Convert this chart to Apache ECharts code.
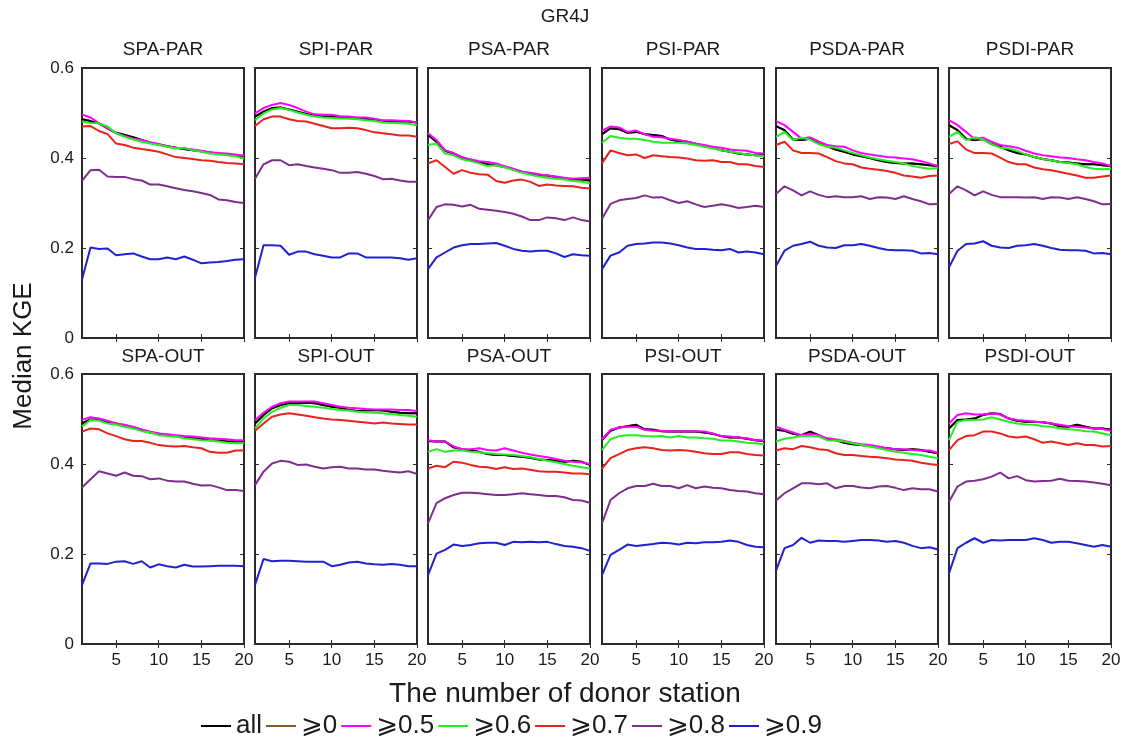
<!DOCTYPE html>
<html><head><meta charset="utf-8">
<script src="https://cdn.jsdelivr.net/npm/echarts@6/dist/echarts.min.js"></script>
<style>html,body{margin:0;padding:0;background:#fff}#c{width:1126px;height:742px}</style>
</head><body><div id="c"></div>
<script>
// ---------------- DATA ----------------
const xValues = [1,2,3,4,5,6,7,8,9,10,11,12,13,14,15,16,17,18,19,20];
const xTicks = [5,10,15,20];
const yTicks = [0,0.2,0.4,0.6];
const seriesNames = ['all','⩾0','⩾0.5','⩾0.6','⩾0.7','⩾0.8','⩾0.9'];
const panelTitles = ['SPA-PAR','SPI-PAR','PSA-PAR','PSI-PAR','PSDA-PAR','PSDI-PAR',
                     'SPA-OUT','SPI-OUT','PSA-OUT','PSI-OUT','PSDA-OUT','PSDI-OUT'];
const mainTitle = 'GR4J';
const xName = 'The number of donor station';
const yName = 'Median KGE';

// rows: all, >=0, >=0.5, >=0.6, >=0.7, >=0.8, >=0.9
const spaPar = [
 [0.486,0.482,0.477,0.466,0.456,0.451,0.446,0.440,0.434,0.430,0.426,0.423,0.420,0.417,0.415,0.412,0.410,0.408,0.405,0.401],
 [0.486,0.482,0.477,0.466,0.456,0.451,0.446,0.440,0.434,0.430,0.426,0.423,0.420,0.417,0.415,0.412,0.410,0.408,0.405,0.401],
 [0.497,0.490,0.477,0.466,0.455,0.449,0.443,0.440,0.435,0.431,0.426,0.423,0.421,0.419,0.416,0.413,0.411,0.410,0.408,0.405],
 [0.481,0.478,0.477,0.470,0.455,0.447,0.441,0.436,0.432,0.429,0.425,0.421,0.423,0.417,0.414,0.410,0.408,0.406,0.404,0.399],
 [0.470,0.471,0.460,0.453,0.432,0.429,0.423,0.420,0.417,0.414,0.408,0.402,0.400,0.398,0.395,0.394,0.391,0.389,0.388,0.386],
 [0.349,0.373,0.374,0.359,0.358,0.358,0.353,0.350,0.341,0.341,0.337,0.333,0.329,0.326,0.322,0.318,0.308,0.306,0.302,0.300],
 [0.130,0.201,0.198,0.199,0.184,0.186,0.188,0.181,0.175,0.175,0.179,0.175,0.181,0.174,0.166,0.168,0.169,0.171,0.174,0.175]
];
const spiPar = [
 [0.492,0.503,0.511,0.512,0.508,0.503,0.498,0.494,0.492,0.492,0.490,0.489,0.488,0.487,0.486,0.483,0.482,0.481,0.481,0.479],
 [0.492,0.503,0.511,0.512,0.508,0.503,0.498,0.494,0.492,0.492,0.490,0.489,0.488,0.487,0.486,0.483,0.482,0.481,0.481,0.479],
 [0.499,0.511,0.518,0.522,0.518,0.511,0.503,0.497,0.496,0.496,0.493,0.492,0.490,0.490,0.487,0.484,0.484,0.483,0.482,0.479],
 [0.484,0.499,0.508,0.511,0.507,0.501,0.496,0.492,0.490,0.489,0.488,0.487,0.486,0.484,0.482,0.479,0.478,0.477,0.476,0.473],
 [0.471,0.486,0.492,0.492,0.486,0.482,0.481,0.476,0.471,0.466,0.466,0.467,0.466,0.462,0.457,0.455,0.453,0.450,0.450,0.447],
 [0.354,0.386,0.395,0.395,0.384,0.386,0.382,0.379,0.376,0.373,0.367,0.367,0.369,0.365,0.360,0.353,0.354,0.350,0.347,0.347],
 [0.134,0.206,0.206,0.205,0.185,0.192,0.192,0.186,0.183,0.179,0.179,0.188,0.188,0.179,0.179,0.179,0.179,0.177,0.174,0.177]
];
const psaPar = [
 [0.451,0.436,0.416,0.410,0.401,0.395,0.391,0.386,0.384,0.380,0.375,0.369,0.365,0.361,0.361,0.358,0.354,0.353,0.352,0.350],
 [0.451,0.436,0.416,0.410,0.401,0.395,0.391,0.386,0.384,0.380,0.375,0.369,0.365,0.361,0.361,0.358,0.354,0.353,0.352,0.350],
 [0.455,0.440,0.417,0.411,0.402,0.397,0.393,0.391,0.388,0.382,0.376,0.370,0.367,0.364,0.361,0.359,0.356,0.354,0.355,0.356],
 [0.429,0.432,0.410,0.406,0.397,0.393,0.388,0.382,0.384,0.379,0.373,0.367,0.363,0.359,0.356,0.354,0.352,0.349,0.347,0.344],
 [0.388,0.395,0.380,0.365,0.373,0.367,0.364,0.363,0.349,0.345,0.350,0.352,0.347,0.338,0.341,0.339,0.338,0.337,0.334,0.332],
 [0.262,0.291,0.297,0.296,0.292,0.296,0.287,0.285,0.283,0.280,0.276,0.270,0.262,0.262,0.268,0.266,0.262,0.268,0.262,0.259],
 [0.153,0.179,0.190,0.201,0.206,0.209,0.209,0.210,0.211,0.205,0.198,0.194,0.192,0.194,0.194,0.188,0.180,0.186,0.184,0.183]
];
const psiPar = [
 [0.453,0.466,0.464,0.456,0.458,0.453,0.451,0.449,0.441,0.437,0.436,0.431,0.426,0.423,0.417,0.414,0.410,0.408,0.406,0.406],
 [0.453,0.466,0.464,0.456,0.458,0.453,0.451,0.449,0.441,0.437,0.436,0.431,0.426,0.423,0.417,0.414,0.410,0.408,0.406,0.406],
 [0.461,0.470,0.468,0.458,0.461,0.453,0.447,0.446,0.443,0.440,0.436,0.432,0.429,0.425,0.423,0.419,0.417,0.416,0.411,0.410],
 [0.434,0.449,0.445,0.443,0.443,0.440,0.436,0.434,0.434,0.434,0.432,0.429,0.425,0.421,0.417,0.414,0.411,0.408,0.406,0.404],
 [0.388,0.417,0.411,0.406,0.408,0.400,0.406,0.404,0.402,0.401,0.399,0.395,0.394,0.395,0.391,0.391,0.386,0.386,0.382,0.380],
 [0.265,0.298,0.306,0.309,0.311,0.317,0.312,0.313,0.306,0.300,0.304,0.297,0.291,0.294,0.297,0.294,0.289,0.291,0.294,0.291],
 [0.153,0.183,0.190,0.205,0.209,0.210,0.212,0.212,0.210,0.206,0.201,0.198,0.198,0.196,0.195,0.198,0.190,0.192,0.190,0.186]
];
const psdaPar = [
 [0.471,0.462,0.441,0.440,0.443,0.432,0.426,0.419,0.414,0.408,0.404,0.400,0.395,0.391,0.389,0.388,0.388,0.386,0.384,0.382],
 [0.471,0.462,0.441,0.440,0.443,0.432,0.426,0.419,0.414,0.408,0.404,0.400,0.395,0.391,0.389,0.388,0.388,0.386,0.384,0.382],
 [0.482,0.473,0.458,0.443,0.446,0.437,0.429,0.426,0.425,0.417,0.411,0.408,0.405,0.402,0.401,0.399,0.397,0.393,0.388,0.382],
 [0.447,0.458,0.440,0.445,0.441,0.431,0.425,0.423,0.417,0.411,0.406,0.401,0.397,0.394,0.391,0.388,0.382,0.379,0.376,0.378],
 [0.429,0.436,0.417,0.411,0.411,0.410,0.402,0.393,0.388,0.386,0.379,0.376,0.374,0.371,0.367,0.361,0.359,0.356,0.360,0.361],
 [0.320,0.337,0.328,0.317,0.326,0.318,0.313,0.315,0.313,0.313,0.315,0.309,0.313,0.312,0.309,0.315,0.309,0.304,0.297,0.298],
 [0.160,0.194,0.205,0.209,0.214,0.205,0.201,0.200,0.206,0.206,0.209,0.205,0.200,0.196,0.195,0.195,0.194,0.188,0.189,0.186]
];
const psdiPar = [
 [0.473,0.462,0.443,0.440,0.442,0.431,0.425,0.417,0.411,0.408,0.402,0.398,0.395,0.391,0.390,0.388,0.386,0.386,0.384,0.382],
 [0.473,0.462,0.443,0.440,0.442,0.431,0.425,0.417,0.411,0.408,0.402,0.398,0.395,0.391,0.390,0.388,0.386,0.386,0.384,0.382],
 [0.484,0.473,0.458,0.442,0.445,0.436,0.429,0.426,0.423,0.416,0.410,0.406,0.404,0.401,0.400,0.397,0.395,0.391,0.388,0.382],
 [0.447,0.458,0.440,0.446,0.441,0.431,0.423,0.421,0.416,0.408,0.402,0.398,0.395,0.391,0.389,0.386,0.380,0.376,0.375,0.376],
 [0.431,0.437,0.419,0.411,0.411,0.410,0.401,0.391,0.386,0.386,0.379,0.375,0.373,0.369,0.365,0.361,0.356,0.356,0.359,0.361],
 [0.320,0.337,0.328,0.317,0.326,0.318,0.313,0.313,0.313,0.312,0.313,0.309,0.313,0.312,0.309,0.313,0.309,0.304,0.297,0.298],
 [0.157,0.194,0.209,0.210,0.215,0.205,0.201,0.200,0.205,0.206,0.209,0.205,0.200,0.196,0.195,0.195,0.194,0.188,0.189,0.186]
];
const spaOut = [
 [0.490,0.499,0.498,0.492,0.490,0.484,0.481,0.476,0.470,0.467,0.464,0.462,0.459,0.457,0.456,0.453,0.452,0.450,0.450,0.450],
 [0.490,0.499,0.498,0.492,0.490,0.484,0.481,0.476,0.470,0.467,0.464,0.462,0.459,0.457,0.456,0.453,0.452,0.450,0.450,0.450],
 [0.498,0.504,0.501,0.496,0.490,0.487,0.483,0.477,0.472,0.468,0.466,0.464,0.462,0.461,0.459,0.457,0.456,0.455,0.453,0.453],
 [0.483,0.498,0.496,0.490,0.487,0.483,0.479,0.473,0.470,0.464,0.462,0.461,0.457,0.455,0.453,0.452,0.450,0.447,0.446,0.446],
 [0.472,0.479,0.477,0.468,0.462,0.455,0.451,0.451,0.447,0.442,0.440,0.439,0.440,0.437,0.435,0.427,0.425,0.425,0.430,0.430],
 [0.348,0.366,0.384,0.379,0.374,0.381,0.374,0.373,0.366,0.368,0.363,0.361,0.361,0.356,0.352,0.353,0.348,0.342,0.342,0.340],
 [0.131,0.179,0.179,0.178,0.183,0.184,0.178,0.184,0.170,0.177,0.173,0.170,0.176,0.172,0.172,0.173,0.174,0.174,0.174,0.173]
];
const spiOut = [
 [0.490,0.509,0.524,0.531,0.535,0.535,0.536,0.535,0.531,0.527,0.525,0.520,0.518,0.519,0.520,0.519,0.516,0.514,0.513,0.513],
 [0.490,0.509,0.524,0.531,0.535,0.535,0.536,0.535,0.531,0.527,0.525,0.520,0.518,0.519,0.520,0.519,0.516,0.514,0.513,0.513],
 [0.498,0.514,0.527,0.535,0.539,0.539,0.539,0.539,0.535,0.531,0.527,0.525,0.524,0.522,0.521,0.521,0.521,0.520,0.520,0.518],
 [0.479,0.501,0.516,0.525,0.531,0.531,0.529,0.527,0.525,0.522,0.520,0.519,0.516,0.515,0.514,0.513,0.511,0.509,0.507,0.505],
 [0.474,0.490,0.505,0.510,0.513,0.510,0.507,0.504,0.501,0.499,0.498,0.496,0.494,0.492,0.490,0.492,0.490,0.489,0.488,0.488],
 [0.353,0.383,0.401,0.407,0.405,0.398,0.399,0.394,0.390,0.393,0.394,0.390,0.390,0.388,0.388,0.385,0.383,0.381,0.384,0.378],
 [0.131,0.189,0.184,0.185,0.185,0.184,0.183,0.183,0.183,0.173,0.176,0.181,0.183,0.179,0.177,0.176,0.178,0.176,0.173,0.173]
];
const psaOut = [
 [0.451,0.450,0.450,0.437,0.433,0.430,0.427,0.422,0.420,0.420,0.418,0.416,0.414,0.410,0.409,0.407,0.405,0.407,0.405,0.398],
 [0.451,0.450,0.450,0.437,0.433,0.430,0.427,0.422,0.420,0.420,0.418,0.416,0.414,0.410,0.409,0.407,0.405,0.407,0.405,0.398],
 [0.453,0.450,0.450,0.439,0.433,0.433,0.435,0.431,0.430,0.435,0.430,0.425,0.421,0.418,0.415,0.411,0.407,0.405,0.404,0.400],
 [0.427,0.433,0.427,0.430,0.430,0.427,0.426,0.424,0.422,0.421,0.420,0.418,0.415,0.411,0.407,0.404,0.400,0.396,0.393,0.390],
 [0.390,0.396,0.393,0.405,0.403,0.398,0.394,0.393,0.389,0.393,0.389,0.390,0.387,0.384,0.383,0.383,0.381,0.379,0.379,0.377],
 [0.268,0.313,0.324,0.331,0.336,0.336,0.335,0.333,0.331,0.331,0.333,0.335,0.333,0.331,0.329,0.329,0.326,0.320,0.319,0.314],
 [0.153,0.201,0.209,0.221,0.218,0.220,0.224,0.225,0.225,0.220,0.227,0.226,0.227,0.226,0.227,0.222,0.218,0.216,0.213,0.207]
];
const psiOut = [
 [0.453,0.474,0.481,0.484,0.487,0.477,0.476,0.473,0.472,0.472,0.472,0.472,0.470,0.467,0.462,0.459,0.459,0.456,0.453,0.451],
 [0.453,0.474,0.481,0.484,0.487,0.477,0.476,0.473,0.472,0.472,0.472,0.472,0.470,0.467,0.462,0.459,0.459,0.456,0.453,0.451],
 [0.455,0.476,0.481,0.483,0.483,0.476,0.474,0.474,0.472,0.472,0.473,0.473,0.472,0.468,0.462,0.461,0.459,0.457,0.453,0.452],
 [0.431,0.455,0.462,0.464,0.464,0.462,0.461,0.462,0.459,0.462,0.459,0.459,0.457,0.456,0.452,0.452,0.450,0.447,0.446,0.444],
 [0.390,0.413,0.422,0.431,0.435,0.437,0.435,0.431,0.430,0.431,0.430,0.427,0.424,0.422,0.422,0.426,0.426,0.422,0.420,0.419],
 [0.268,0.320,0.335,0.346,0.351,0.351,0.356,0.351,0.351,0.346,0.353,0.346,0.350,0.347,0.346,0.342,0.340,0.339,0.335,0.333],
 [0.153,0.198,0.209,0.221,0.218,0.220,0.222,0.225,0.224,0.221,0.225,0.224,0.226,0.226,0.227,0.230,0.227,0.220,0.216,0.215]
];
const psdaOut = [
 [0.476,0.474,0.467,0.464,0.472,0.464,0.455,0.453,0.447,0.444,0.442,0.440,0.437,0.435,0.433,0.431,0.433,0.431,0.427,0.424],
 [0.476,0.474,0.467,0.464,0.472,0.464,0.455,0.453,0.447,0.444,0.442,0.440,0.437,0.435,0.433,0.431,0.433,0.431,0.427,0.424],
 [0.483,0.476,0.470,0.464,0.467,0.464,0.457,0.455,0.451,0.447,0.444,0.442,0.439,0.435,0.433,0.433,0.431,0.430,0.430,0.425],
 [0.450,0.456,0.459,0.462,0.462,0.461,0.453,0.452,0.450,0.446,0.442,0.439,0.435,0.431,0.427,0.425,0.422,0.420,0.416,0.413],
 [0.430,0.435,0.433,0.440,0.437,0.433,0.431,0.424,0.420,0.420,0.418,0.416,0.415,0.413,0.410,0.409,0.407,0.403,0.400,0.398],
 [0.319,0.335,0.346,0.357,0.357,0.355,0.357,0.346,0.351,0.351,0.348,0.346,0.350,0.351,0.347,0.342,0.346,0.344,0.344,0.339],
 [0.163,0.213,0.220,0.236,0.225,0.230,0.229,0.229,0.227,0.229,0.231,0.231,0.230,0.227,0.229,0.225,0.218,0.213,0.215,0.210]
];
const psdiOut = [
 [0.479,0.498,0.499,0.501,0.509,0.513,0.511,0.501,0.496,0.494,0.494,0.493,0.490,0.484,0.483,0.487,0.483,0.479,0.479,0.476],
 [0.479,0.498,0.499,0.501,0.509,0.513,0.511,0.501,0.496,0.494,0.494,0.493,0.490,0.484,0.483,0.487,0.483,0.479,0.479,0.476],
 [0.490,0.509,0.513,0.510,0.510,0.513,0.510,0.501,0.498,0.496,0.494,0.493,0.490,0.487,0.484,0.483,0.481,0.479,0.478,0.474],
 [0.453,0.494,0.498,0.498,0.499,0.504,0.499,0.494,0.490,0.488,0.487,0.484,0.483,0.479,0.477,0.476,0.473,0.472,0.468,0.464],
 [0.431,0.453,0.462,0.464,0.472,0.472,0.468,0.461,0.459,0.461,0.455,0.447,0.450,0.446,0.442,0.446,0.442,0.442,0.439,0.440],
 [0.316,0.350,0.361,0.363,0.366,0.372,0.381,0.368,0.373,0.364,0.361,0.362,0.363,0.367,0.363,0.362,0.361,0.359,0.356,0.353],
 [0.157,0.213,0.225,0.235,0.225,0.231,0.230,0.231,0.231,0.231,0.235,0.231,0.225,0.227,0.227,0.224,0.220,0.216,0.220,0.216]
];
const panels = [spaPar, spiPar, psaPar, psiPar, psdaPar, psdiPar,
                spaOut, spiOut, psaOut, psiOut, psdaOut, psdiOut];

// ---------------- STYLE / LAYOUT ----------------
const colors = ['#000000','#8c5a2b','#ff00ff','#22ee22','#e8221c','#7e2f8e','#1f22d0'];
const drawOrder = [1,0,2,3,4,5,6];
const FONT = '"Liberation Sans", Arial, Helvetica, "DejaVu Sans", sans-serif';
const colLefts = [82,255,428,602,776,949];
const rowTops = [68,374];
const GW = 162, GH = 270;

const grids = [], xAxes = [], yAxes = [], series = [], graphics = [];
panels.forEach((p, i) => {
  const row = Math.floor(i / 6), col = i % 6;
  const left = colLefts[col], top = rowTops[row];
  grids.push({left: left, top: top, width: GW, height: GH, show: true,
    borderColor: '#2b2b2b', borderWidth: 2, backgroundColor: '#fff'});
  const tickStyle = {inside: true, length: 4, lineStyle: {color: '#2b2b2b', width: 1}};
  xAxes.push({type: 'value', gridIndex: i, min: 1, max: 20, position: 'bottom',
    axisLine: {show: false}, splitLine: {show: false},
    axisTick: Object.assign({customValues: xTicks}, tickStyle),
    axisLabel: {show: row === 1, customValues: xTicks, fontSize: 17, color: '#1a1a1a', fontFamily: FONT, margin: 8}});
  xAxes.push({type: 'value', gridIndex: i, min: 1, max: 20, position: 'top',
    axisLine: {show: false}, splitLine: {show: false},
    axisTick: Object.assign({customValues: xTicks}, tickStyle),
    axisLabel: {show: false}});
  yAxes.push({type: 'value', gridIndex: i, min: 0, max: 0.6, position: 'left',
    axisLine: {show: false}, splitLine: {show: false},
    axisTick: Object.assign({customValues: yTicks}, tickStyle),
    axisLabel: {show: col === 0, customValues: yTicks, fontSize: 17, color: '#1a1a1a', fontFamily: FONT, margin: 8}});
  yAxes.push({type: 'value', gridIndex: i, min: 0, max: 0.6, position: 'right',
    axisLine: {show: false}, splitLine: {show: false},
    axisTick: Object.assign({customValues: yTicks}, tickStyle),
    axisLabel: {show: false}});
  drawOrder.forEach(k => {
    series.push({type: 'line', name: seriesNames[k], xAxisIndex: 2 * i, yAxisIndex: 2 * i,
      data: xValues.map((x, j) => [x, p[k][j]]),
      symbol: 'none', showSymbol: false, silent: true, animation: false,
      lineStyle: {width: 2, color: colors[k]}, itemStyle: {color: colors[k]}});
  });
  graphics.push({type: 'text', x: left + GW / 2, y: row === 0 ? 50 : 357,
    style: {text: panelTitles[i], fontSize: 19, fontFamily: FONT, fill: '#1a1a1a', align: 'center', verticalAlign: 'middle'}});
});
graphics.push({type: 'text', x: 565, y: 17,
  style: {text: mainTitle, fontSize: 19, fontFamily: FONT, fill: '#1a1a1a', align: 'center', verticalAlign: 'middle'}});
graphics.push({type: 'text', x: 565, y: 694,
  style: {text: xName, fontSize: 28, fontFamily: FONT, fill: '#1a1a1a', align: 'center', verticalAlign: 'middle'}});
graphics.push({type: 'text', x: 24, y: 356, rotation: Math.PI / 2,
  style: {text: yName, fontSize: 26, fontFamily: FONT, fill: '#1a1a1a', align: 'center', verticalAlign: 'middle'}});

const chart = echarts.init(document.getElementById('c'), null, {renderer: 'canvas'});
chart.setOption({
  backgroundColor: '#ffffff',
  animation: false,
  grid: grids, xAxis: xAxes, yAxis: yAxes, series: series,
  legend: {data: seriesNames, left: 196, top: 708, itemWidth: 30, itemHeight: 14, itemGap: 4,
    icon: 'path://M0,6 L30,6 L30,8 L0,8 Z',
    selectedMode: false,
    textStyle: {fontSize: 26, fontFamily: FONT, color: '#1a1a1a', padding: [0, 0, 0, 0]}},
  graphic: graphics
});
</script></body></html>
